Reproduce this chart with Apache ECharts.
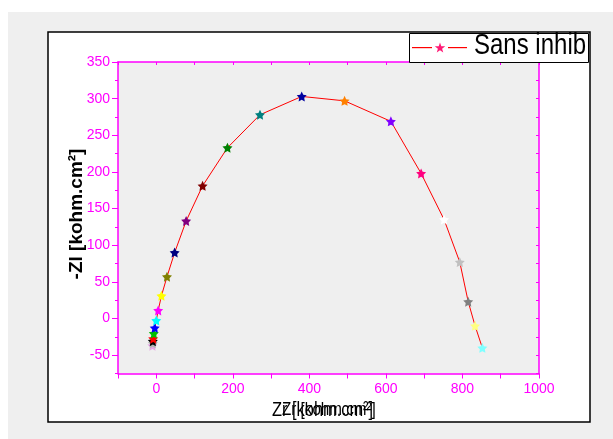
<!DOCTYPE html>
<html>
<head>
<meta charset="utf-8">
<script src="https://cdn.jsdelivr.net/npm/echarts@6/dist/echarts.min.js"></script>
<style>
  html, body { margin: 0; padding: 0; background: #ffffff; }
  #chart { width: 613px; height: 439px; }
</style>
</head>
<body>
<div id="chart"></div>
<script>
// Nyquist plot: real part (Zr) vs. negative imaginary part (-Zi)
const zr = [-10, -9, -9, -8, -6.5, -4, 0, 5, 13.5, 28, 48, 78, 121, 186, 271, 380, 492, 613, 692, 752, 793, 815, 833, 852];
const zi = [-37, -34, -31, -27.5, -20.5, -12.7, -2.7, 11, 31, 57, 90, 133, 181, 233, 278, 303, 297, 269, 198, 135, 77, 23, -10, -40];
const pointColors = ['#e6a6e6', '#b4b4b4', '#000000', '#ff0000', '#00c000', '#0000ff', '#00ffff', '#ff00ff', '#ffff00',
  '#808000', '#000080', '#800080', '#800000', '#008000', '#008080', '#0000a0', '#ff8000', '#8000ff',
  '#ff0080', '#ffffff', '#c0c0c0', '#808080', '#ffff80', '#80ffff'];
const seriesName = 'Sans inhib';
const xLabels = [0, 200, 400, 600, 800, 1000];
const xTicks = [-100, 0, 100, 200, 300, 400, 500, 600, 700, 800, 900, 1000];
const yLabels = [-50, 0, 50, 100, 150, 200, 250, 300, 350];
const yMinorTicks = [-75, -25, 25, 75, 125, 175, 225, 275, 325];

const MAG = '#ff00ff';
const SANS = "'Liberation Sans', Arial, sans-serif";
const STAR = 'path://M0,-10 L2.94,-4.05 9.51,-3.09 4.76,1.55 5.88,8.09 0,5 -5.88,8.09 -4.76,1.55 -9.51,-3.09 -2.94,-4.05 Z';

// five-pointed star outline for the legend key
function starPoints(cx, cy, r) {
  const pts = [];
  for (let k = 0; k < 10; k++) {
    const a = -Math.PI / 2 + k * Math.PI / 5;
    const rr = k % 2 === 0 ? r : r * 0.4;
    pts.push([cx + rr * Math.cos(a), cy + rr * Math.sin(a)]);
  }
  return pts;
}

const points = zr.map((x, i) => ({ value: [x, zi[i]], itemStyle: { color: pointColors[i] } }));

const chart = echarts.init(document.getElementById('chart'), null, { renderer: 'canvas' });

chart.setOption({
  animation: false,
  backgroundColor: '#ffffff',
  graphic: [
    { type: 'rect', z: -100, shape: { x: 8, y: 12, width: 605, height: 427 }, style: { fill: '#efefef' } },
    { type: 'rect', z: -90, shape: { x: 48, y: 32, width: 542, height: 390 }, style: { fill: '#ffffff', stroke: '#000000', lineWidth: 1.5 } },
    // axis titles
    { type: 'text', z: 10, x: 77, y: 214, rotation: Math.PI / 2,
      style: { text: '-Zl [kohm.cm²]', font: 'bold 19px ' + SANS, fill: '#000000', align: 'center', verticalAlign: 'middle' } },
    { type: 'text', z: 10, x: 272, y: 410, scaleX: 0.82,
      style: { text: 'Zr [kohm.cm²]', font: '20px ' + SANS, fill: '#000000', align: 'left', verticalAlign: 'middle' } },
    { type: 'text', z: 10, x: 282, y: 410, scaleX: 0.8,
      style: { text: 'Zr [kohm.cm²]', font: '19px ' + SANS, fill: '#000000', align: 'left', verticalAlign: 'middle' } },
    // legend box
    { type: 'rect', z: 20, shape: { x: 409.5, y: 33.5, width: 179, height: 29 }, style: { fill: '#ffffff', stroke: '#000000', lineWidth: 1 } },
    { type: 'rect', z: 21, shape: { x: 412, y: 47, width: 20, height: 1.2 }, style: { fill: '#ff0000' } },
    { type: 'rect', z: 21, shape: { x: 448, y: 47, width: 19, height: 1.2 }, style: { fill: '#ff0000' } },
    { type: 'polygon', z: 21, shape: { points: starPoints(440, 48, 5.5) }, style: { fill: '#ff1a75' } },
    { type: 'text', z: 21, x: 474, y: 46, scaleX: 0.8,
      style: { text: seriesName, font: '30px ' + SANS, fill: '#000000', align: 'left', verticalAlign: 'middle' } }
  ],
  grid: { left: 118, top: 62, right: 74, bottom: 65.5, show: true, backgroundColor: '#efefef', borderWidth: 0 },
  xAxis: [
    {
      type: 'value', min: -100, max: 1000, interval: 100,
      axisLine: { onZero: false, lineStyle: { color: MAG, width: 1.5 } },
      axisTick: { customValues: xTicks, inside: false, length: 5, lineStyle: { color: MAG } },
      axisLabel: { customValues: xLabels, color: MAG, fontSize: 14, fontFamily: SANS, margin: 9, formatter: v => String(v) },
      splitLine: { show: false }
    },
    {
      type: 'value', min: -100, max: 1000, interval: 100, position: 'top',
      axisLine: { onZero: false, lineStyle: { color: MAG, width: 1.5 } },
      axisTick: { customValues: xTicks, inside: true, length: 3, lineStyle: { color: MAG } },
      axisLabel: { show: false }, splitLine: { show: false }
    }
  ],
  yAxis: [
    {
      type: 'value', min: -75, max: 350, interval: 25,
      axisLine: { onZero: false, lineStyle: { color: MAG, width: 1.5 } },
      axisTick: { customValues: yLabels, inside: false, length: 6, lineStyle: { color: MAG } },
      axisLabel: { customValues: yLabels, color: MAG, fontSize: 14, fontFamily: SANS, margin: 8, formatter: v => String(v) },
      splitLine: { show: false }
    },
    {
      type: 'value', min: -75, max: 350, interval: 25, position: 'left',
      axisLine: { show: false, onZero: false },
      axisTick: { customValues: yMinorTicks, inside: false, length: 3, lineStyle: { color: MAG } },
      axisLabel: { show: false }, splitLine: { show: false }
    },
    {
      type: 'value', min: -75, max: 350, interval: 25, position: 'right',
      axisLine: { onZero: false, lineStyle: { color: MAG, width: 1.5 } },
      axisTick: { customValues: yLabels.concat(yMinorTicks), inside: true, length: 3, lineStyle: { color: MAG } },
      axisLabel: { show: false }, splitLine: { show: false }
    }
  ],
  series: [{
    name: seriesName,
    type: 'line',
    xAxisIndex: 0, yAxisIndex: 0,
    data: points,
    symbol: STAR,
    symbolSize: 10,
    lineStyle: { color: '#ff0000', width: 1 },
    itemStyle: { color: '#ff1a75' },
    emphasis: { disabled: true }
  }]
});
</script>
</body>
</html>
